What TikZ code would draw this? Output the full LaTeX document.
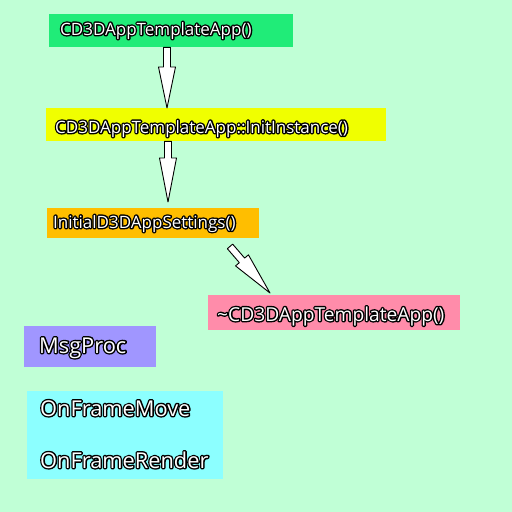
\documentclass[tikz,border=0pt]{standalone}
\usepackage{fontspec}
\setmainfont{Open Sans}
\usetikzlibrary{calc}
\definecolor{bgc}{RGB}{192,255,214}
\definecolor{gbox}{RGB}{32,236,120}
\definecolor{ybox}{RGB}{240,255,0}
\definecolor{obox}{RGB}{255,190,0}
\definecolor{pbox}{RGB}{255,140,170}
\definecolor{vbox}{RGB}{160,150,255}
\definecolor{cbox}{RGB}{140,255,255}
\newcommand\outl[1]{\rlap{\textcolor{black}{\special{pdf:literal direct 0 G 2 Tr 2.8 w 1 j}#1\special{pdf:literal direct 0 Tr}}}\textcolor{white}{#1}}
\newcommand\fatarrow[4]{% start, tip, head length, name
  \coordinate (#4h) at ($(#2)!#3!(#1)$);
  \draw[black, line width=0.9pt, fill=white, line join=round]
    ($(#1)!3.5pt!90:(#2)$) -- ($(#4h)!3.5pt!-90:(#1)$) -- ($(#4h)!8.5pt!-90:(#1)$)
    -- (#2) -- ($(#4h)!8.5pt!90:(#1)$) -- ($(#4h)!3.5pt!90:(#1)$)
    -- ($(#1)!3.5pt!-90:(#2)$) -- cycle;}
\begin{document}
\begin{tikzpicture}[x=1pt,y=-1pt,
  box/.style={inner sep=0pt, anchor=north west},
  txt/.style={inner sep=0pt, anchor=base west, font=\fontsize{17}{20}\selectfont},
  bigtxt/.style={inner sep=0pt, anchor=base west, font=\fontsize{21.8}{24}\selectfont}]
\fill[bgc] (0,0) rectangle (512,512);
\useasboundingbox (0,0) rectangle (512,512);
\node[box, fill=gbox, minimum width=244pt, minimum height=33pt] (g) at (49,14) {};
\node[box, fill=ybox, minimum width=340pt, minimum height=33pt] (y) at (46,108) {};
\node[box, fill=obox, minimum width=212pt, minimum height=30pt] (o) at (47,208) {};
\node[box, fill=pbox, minimum width=252pt, minimum height=35pt] (p) at (208,295) {};
\node[box, fill=vbox, minimum width=132pt, minimum height=41pt] (v) at (24,326) {};
\node[box, fill=cbox, minimum width=196pt, minimum height=88pt] (c) at (27,391) {};
\node[txt] (gt) at (60,35) {\outl{CD3DAppTemplateApp()}};
\node[txt] (yt) at (55,133) {\outl{CD3DAppTemplateApp::InitInstance()}};
\node[txt] (ot) at (53,228) {\outl{InitialD3DAppSettings()}};
\node[txt, font=\fontsize{19.2}{22}\selectfont] (pt) at (217,321) {\outl{\textasciitilde CD3DAppTemplateApp()}};
\node[bigtxt] (vt) at (39,353) {\outl{MsgProc}};
\node[bigtxt] (ct1) at (40,416) {\outl{OnFrameMove}};
\node[bigtxt] (ct2) at (40,468) {\outl{OnFrameRender}};
\coordinate (a1s) at ($(g.south west)+(118,0)$);
\coordinate (a1e) at ($(y.north west)+(121,0)$);
\coordinate (a2s) at ($(y.south west)+(122,0)$);
\coordinate (a2e) at ($(o.north west)+(121,-6)$);
\coordinate (a3s) at ($(o.south west)+(183,8)$);
\coordinate (a3e) at ($(p.north west)+(62,-2)$);
\fatarrow{a1s}{a1e}{41pt}{ar1}
\fatarrow{a2s}{a2e}{44pt}{ar2}
\fatarrow{a3s}{a3e}{43pt}{ar3}
\end{tikzpicture}
\end{document}
